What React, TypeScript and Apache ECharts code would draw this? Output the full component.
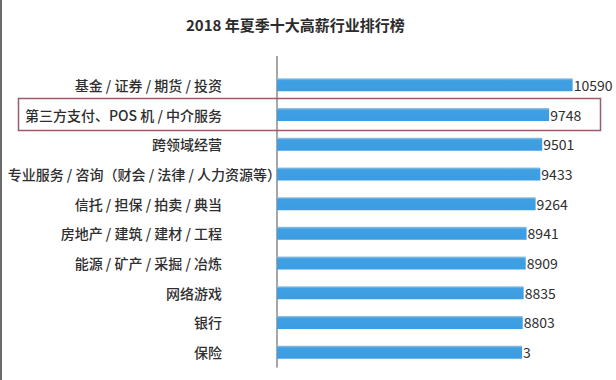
import React, { useEffect, useRef } from "react";
import * as echarts from "echarts";

const titleText = "2018 年夏季十大高薪行业排行榜";
const categories = [
  "基金 / 证券 / 期货 / 投资",
  "第三方支付、POS 机 / 中介服务",
  "跨领域经营",
  "专业服务 / 咨询（财会 / 法律 / 人力资源等）",
  "信托 / 担保 / 拍卖 / 典当",
  "房地产 / 建筑 / 建材 / 工程",
  "能源 / 矿产 / 采掘 / 冶炼",
  "网络游戏",
  "银行",
  "保险",
];
const values = [10590, 9748, 9501, 9433, 9264, 8941, 8909, 8835, 8803, 8780];
const valueLabels = ["10590", "9748", "9501", "9433", "9264", "8941", "8909", "8835", "8803", "3"];
const longLabelIndex = 3;

const FONT = "'Noto Sans CJK SC', 'Noto Sans', sans-serif";

export default function App() {
  const ref = useRef<HTMLDivElement>(null);
  useEffect(() => {
    if (!ref.current) return;
    const chart = echarts.init(ref.current, undefined, { renderer: "svg" });
    chart.setOption({
      animation: false,
      backgroundColor: "#ffffff",
      title: {
        text: titleText,
        left: 181,
        top: 12,
        textStyle: { fontFamily: FONT, fontSize: 15, fontWeight: "bold", color: "#2b2b2b" },
      },
      grid: { left: 277, right: 4, top: 70, bottom: 13, containLabel: false },
      xAxis: {
        type: "value",
        min: 0,
        max: 12000,
        show: false,
      },
      yAxis: {
        type: "category",
        inverse: true,
        data: categories,
        axisLine: { show: true, lineStyle: { color: "#8a8a8a", width: 1.5 } },
        axisTick: { show: false },
        axisLabel: {
          margin: -4,
          formatter: (v: string) => {
            const i = categories.indexOf(v);
            return i === longLabelIndex ? `{t|${v}}` : `{t|${v}}{s| }`;
          },
          rich: {
            t: { fontFamily: FONT, fontSize: 14, fontWeight: 500, color: "#2e2e2e" },
            s: { width: 59, fontSize: 14 },
          },
        },
      },
      series: [
        {
          type: "bar",
          data: values,
          barWidth: 13,
          itemStyle: {
            color: new echarts.graphic.LinearGradient(0, 0, 0, 1, [
              { offset: 0, color: "#9cc3df" },
              { offset: 0.18, color: "#3f9fe3" },
              { offset: 1, color: "#3d9de3" },
            ]),
          },
          label: {
            show: true,
            position: "right",
            distance: 1,
            fontFamily: FONT,
            fontSize: 14,
            color: "#2e2e2e",
            formatter: (p: any) => valueLabels[p.dataIndex],
          },
        },
      ],
      graphic: [
        {
          type: "rect",
          shape: { x: 0, y: 0, width: 2, height: 380 },
          style: { fill: "#6a6a6a" },
        },
        {
          type: "line",
          shape: { x1: 277, y1: 56, x2: 277, y2: 70 },
          style: { stroke: "#8a8a8a", lineWidth: 1.5 },
        },
        {
          type: "rect",
          shape: { x: 18.5, y: 98.5, width: 582, height: 32 },
          style: { fill: "none", stroke: "#9c5c6c", lineWidth: 1.5 },
          z: 100,
        },
      ],
    });
    return () => chart.dispose();
  }, []);
  return (
    <div
      ref={ref}
      style={{ position: "fixed", left: 0, top: 0, width: 616, height: 380 }}
    />
  );
}
